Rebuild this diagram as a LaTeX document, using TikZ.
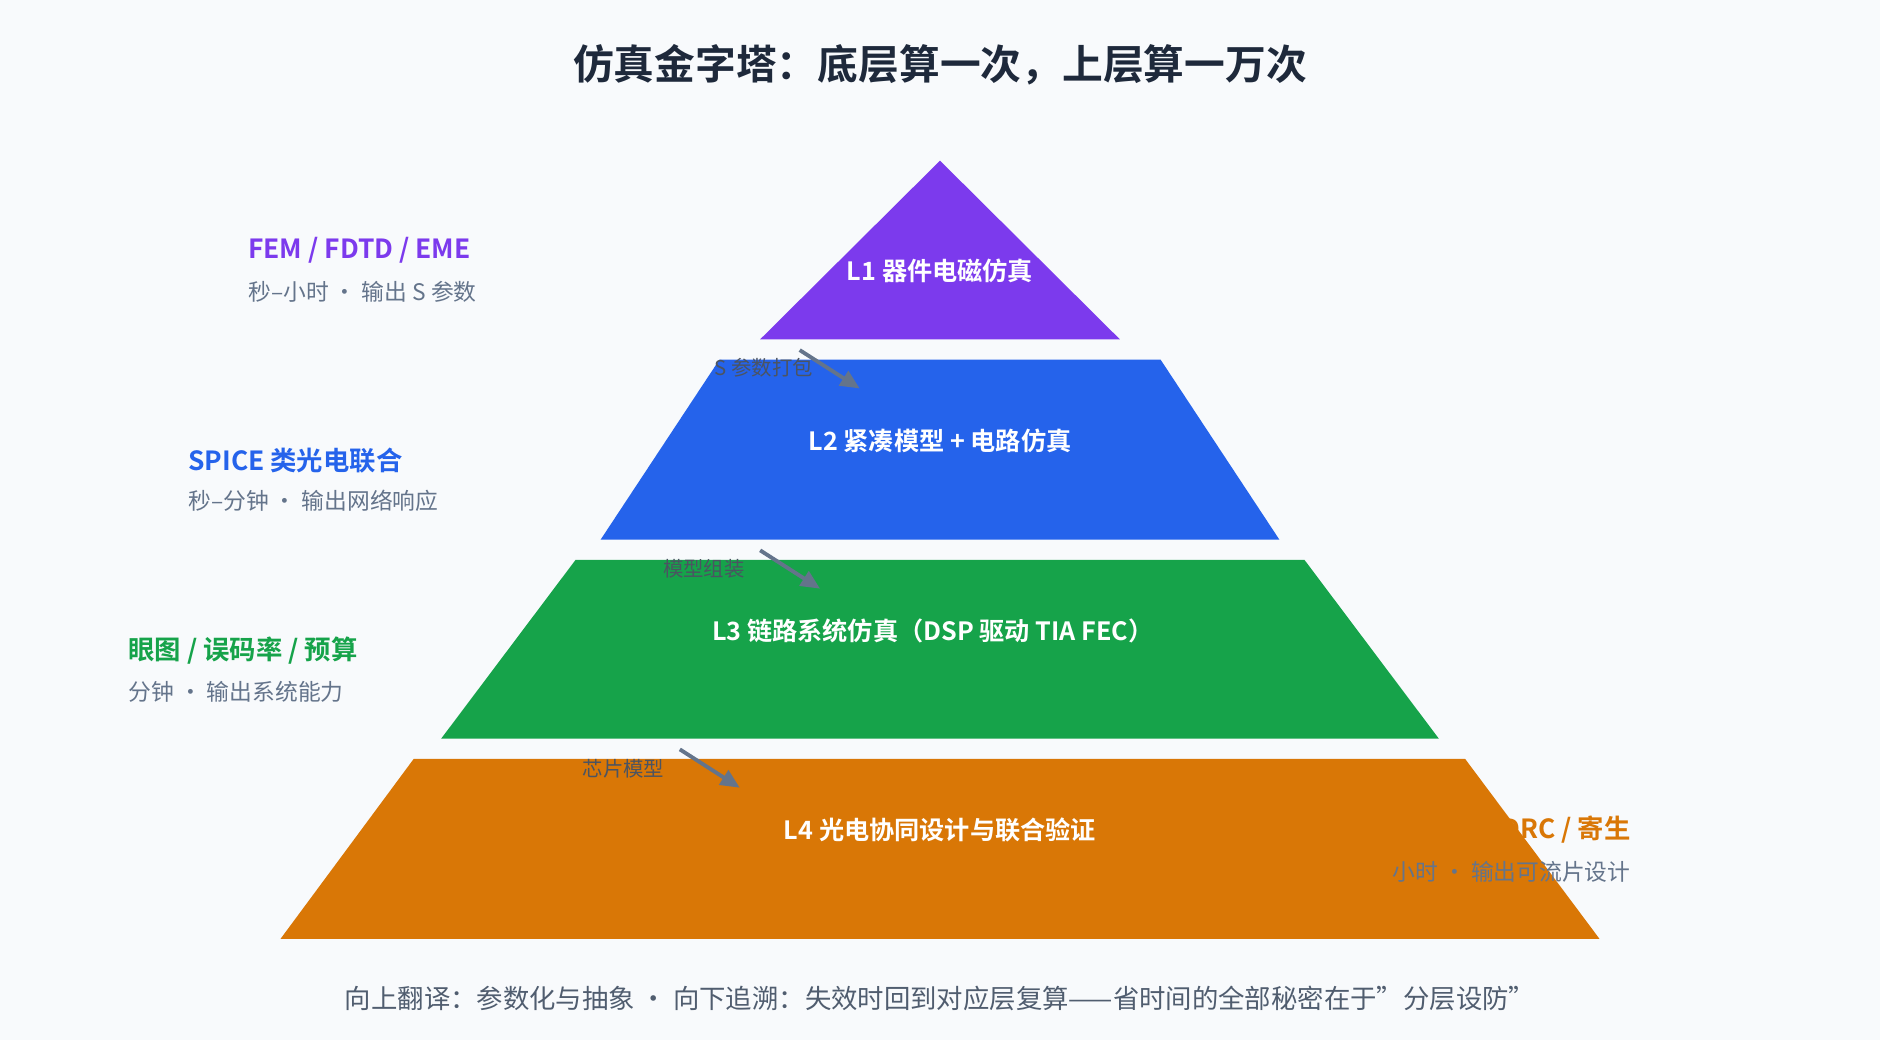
\documentclass[tikz,border=0pt]{standalone}
\usepackage{fontspec}
\setmainfont{Noto Sans CJK SC}[BoldFont={Noto Sans CJK SC Bold}]
\usetikzlibrary{arrows.meta}
\definecolor{bgc}{HTML}{F8FAFC}
\definecolor{lone}{HTML}{7C3AED}
\definecolor{ltwo}{HTML}{2563EB}
\definecolor{lthree}{HTML}{16A34A}
\definecolor{lfour}{HTML}{D97706}
\definecolor{subgray}{HTML}{64748B}
\definecolor{darkt}{HTML}{1E293B}
\begin{document}
\begin{tikzpicture}[x=0.5pt,y=-0.5pt,
  layer/.style={text=white,font=\fontsize{10.5}{12}\selectfont\bfseries},
  side/.style={font=\fontsize{11}{13}\selectfont\bfseries},
  sub/.style={text=subgray,font=\fontsize{9.5}{11}\selectfont},
  flow/.style={draw=subgray,line width=1.6pt,-{Triangle[length=8pt,width=7pt]}},
  flowlab/.style={text=darkt!80,font=\fontsize{8.5}{10}\selectfont}]
\fill[bgc] (0,0) rectangle (1568,867);
\useasboundingbox (0,0) rectangle (1568,867);
% title
\node[text=darkt,font=\fontsize{17}{20}\selectfont\bfseries] (title) at (784,54) {仿真金字塔：底层算一次，上层算一万次};
% side notes
\node[side,text=lone,anchor=west] (s1) at (200,209) {FEM / FDTD / EME};
\node[sub,anchor=west] (s1b) at (200,243) {秒–小时 · 输出 S 参数};
\node[side,text=ltwo,anchor=west] (s2) at (150,384) {SPICE 类光电联合};
\node[sub,anchor=west] (s2b) at (150,418) {秒–分钟 · 输出网络响应};
\node[side,text=lthree,anchor=west] (s3) at (100,543) {眼图 / 误码率 / 预算};
\node[sub,anchor=west] (s3b) at (100,577) {分钟 · 输出系统能力};
\node[side,text=lfour,anchor=east] (s4) at (1367,692) {DRC / 寄生};
% layers
\fill[lone] (784,134) -- (934,283) -- (634,283) -- cycle;
\fill[ltwo] (600,300) -- (968,300) -- (1067,450) -- (501,450) -- cycle;
\fill[lthree] (480,467) -- (1088,467) -- (1200,616) -- (368,616) -- cycle;
\fill[lfour] (345,633) -- (1222,633) -- (1334,783) -- (234,783) -- cycle;
\node[sub,anchor=east] (s4b) at (1367,727) {小时 · 输出可流片设计};
\node[layer] (l1) at (784,226) {L1 器件电磁仿真};
\node[layer] (l2) at (784,368) {L2 紧凑模型 + 电路仿真};
\node[layer] (l3) at (778,526) {L3 链路系统仿真（DSP 驱动 TIA FEC）};
\node[layer] (l4) at (784,692) {L4 光电协同设计与联合验证};
% flows
\coordinate (a1) at (667,292); \coordinate (b1) at (717,324);
\coordinate (a2) at (634,459); \coordinate (b2) at (684,491);
\coordinate (a3) at (567,625); \coordinate (b3) at (617,657);
\node[flowlab] (f1) at (637,307) {S 参数打包};
\node[flowlab] (f2) at (587,474) {模型组装};
\node[flowlab] (f3) at (520,641) {芯片模型};
\draw[flow] (a1) -- (b1);
\draw[flow] (a2) -- (b2);
\draw[flow] (a3) -- (b3);
% footer
\node[text=subgray!80!black,font=\fontsize{11}{13}\selectfont] (foot) at (784,833) {向上翻译：参数化与抽象 · 向下追溯：失效时回到对应层复算——省时间的全部秘密在于"分层设防"};
\end{tikzpicture}
\end{document}
